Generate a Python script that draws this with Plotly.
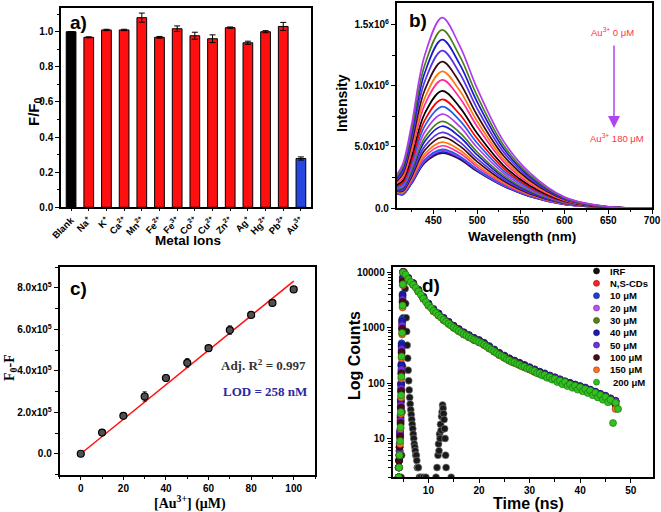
import plotly.graph_objects as go

W, H = 661, 512
SANS = "Liberation Sans, Arial, sans-serif"
SERIF = "Liberation Serif, Times New Roman, serif"

# ---------------- Panel a: selectivity ----------------
ions = ["Blank", "Na<sup>+</sup>", "K<sup>+</sup>", "Ca<sup>2+</sup>", "Mn<sup>2+</sup>", "Fe<sup>2+</sup>",
        "Fe<sup>3+</sup>", "Co<sup>2+</sup>", "Cu<sup>2+</sup>", "Zn<sup>2+</sup>", "Ag<sup>+</sup>",
        "Hg<sup>2+</sup>", "Pb<sup>2+</sup>", "Au<sup>3+</sup>"]
ratio = [1.000, 0.968, 1.010, 1.010, 1.080, 0.968, 1.017, 0.977, 0.960, 1.023, 0.937, 1.000, 1.030, 0.278]
ratio_err = [0.000, 0.003, 0.004, 0.004, 0.026, 0.005, 0.016, 0.020, 0.022, 0.004, 0.009, 0.006, 0.023, 0.009]
bar_colors = ["#000000"] + ["#FF1010"] * 12 + ["#2646E0"]

# ---------------- Panel b: emission spectra ----------------
wl = [408, 415, 425, 440, 460, 480, 500, 530, 560, 600, 650, 700]
spectra = [  # x 1e6, Au3+ 0 uM (top) ... 180 uM (bottom)
    [0.270, 0.360, 0.680, 1.250, 1.56, 1.330, 0.980, 0.550, 0.290, 0.090, 0.010, 0.0],
    [0.257, 0.338, 0.637, 1.171, 1.46, 1.246, 0.919, 0.517, 0.272, 0.085, 0.010, 0.0],
    [0.246, 0.320, 0.602, 1.107, 1.38, 1.179, 0.870, 0.490, 0.258, 0.080, 0.009, 0.0],
    [0.234, 0.299, 0.563, 1.036, 1.29, 1.104, 0.815, 0.460, 0.243, 0.075, 0.009, 0.0],
    [0.221, 0.279, 0.524, 0.965, 1.20, 1.029, 0.760, 0.430, 0.227, 0.071, 0.008, 0.0],
    [0.211, 0.261, 0.490, 0.901, 1.12, 0.962, 0.711, 0.403, 0.213, 0.066, 0.008, 0.0],
    [0.201, 0.245, 0.460, 0.846, 1.05, 0.903, 0.668, 0.380, 0.200, 0.062, 0.008, 0.0],
    [0.189, 0.225, 0.420, 0.774, 0.96, 0.827, 0.612, 0.350, 0.185, 0.058, 0.007, 0.0],
    [0.179, 0.209, 0.390, 0.718, 0.89, 0.768, 0.569, 0.327, 0.172, 0.054, 0.007, 0.0],
    [0.171, 0.196, 0.364, 0.671, 0.83, 0.718, 0.533, 0.307, 0.162, 0.051, 0.007, 0.0],
    [0.163, 0.182, 0.338, 0.623, 0.77, 0.668, 0.496, 0.287, 0.151, 0.047, 0.006, 0.0],
    [0.155, 0.169, 0.312, 0.576, 0.71, 0.618, 0.459, 0.267, 0.141, 0.044, 0.006, 0.0],
    [0.150, 0.160, 0.295, 0.544, 0.67, 0.584, 0.435, 0.253, 0.134, 0.042, 0.006, 0.0],
    [0.143, 0.148, 0.273, 0.505, 0.62, 0.542, 0.404, 0.237, 0.125, 0.039, 0.006, 0.0],
    [0.138, 0.139, 0.256, 0.473, 0.58, 0.509, 0.380, 0.223, 0.118, 0.037, 0.006, 0.0],
    [0.132, 0.130, 0.239, 0.441, 0.54, 0.475, 0.355, 0.210, 0.111, 0.035, 0.005, 0.0],
    [0.128, 0.124, 0.226, 0.418, 0.51, 0.450, 0.337, 0.200, 0.106, 0.033, 0.005, 0.0],
    [0.124, 0.117, 0.213, 0.394, 0.48, 0.425, 0.318, 0.190, 0.100, 0.032, 0.005, 0.0],
    [0.123, 0.115, 0.209, 0.386, 0.47, 0.417, 0.312, 0.187, 0.099, 0.031, 0.005, 0.0],
    [0.121, 0.112, 0.205, 0.378, 0.46, 0.408, 0.306, 0.183, 0.097, 0.030, 0.005, 0.0],
    [0.120, 0.110, 0.200, 0.370, 0.45, 0.400, 0.300, 0.180, 0.095, 0.030, 0.005, 0.0],
]
spec_colors = ["#B23AEE", "#4B7F1E", "#1A1ACD", "#5B33E6", "#3A0B12", "#FF7A10", "#FF2E9A",
               "#000000", "#FF0000", "#1F5FE6", "#B23AEE", "#4B7F1E", "#1A1ACD", "#5B33E6",
               "#3A0B12", "#FF7A10", "#FF2E9A", "#1F5FE6", "#B23AEE", "#1A1ACD", "#3A0B12"]

# ---------------- Panel c: calibration ----------------
conc = [0, 10, 20, 30, 40, 50, 60, 70, 80, 90, 100]
f0_minus_f = [0, 1.02e5, 1.83e5, 2.76e5, 3.65e5, 4.38e5, 5.09e5, 5.96e5, 6.69e5, 7.27e5, 7.92e5]
f0_err = [3e3, 1.2e4, 8e3, 2.2e4, 1.5e4, 2.0e4, 8e3, 2.0e4, 6e3, 8e3, 1.0e4]
fit_x = [0, 100]
fit_y = [0, 8.32e5]

# ---------------- Panel d: lifetime decays ----------------
irf_t = [4.6, 4.7, 4.8, 4.9, 5.0, 5.1, 5.2, 5.3, 5.4, 5.5, 5.6, 5.7, 5.8, 5.9, 6.0,
         6.1, 6.2, 6.3, 6.4, 6.5, 6.6, 6.7, 6.8, 6.9, 7.0, 7.1, 7.2, 7.3, 7.4, 7.5, 7.6, 7.7, 7.8, 7.9, 8.0,
         8.2, 8.5, 9.0, 9.5, 11.5, 11.7, 11.9,
         12.0, 12.1, 12.2, 12.3, 12.4, 12.5, 12.6, 12.7, 12.8, 12.9, 13.0, 13.1, 13.2, 13.3, 13.4, 13.5, 14.5]
irf_c = [2, 5, 30, 200, 1500, 6000, 10000, 8000, 5000, 2700, 1500, 850, 480, 280, 170,
         110, 75, 55, 42, 33, 27, 22, 18, 15, 12, 10, 8, 7, 6, 5, 5, 4, 3, 3, 3,
         2, 2, 2, 2, 2, 3, 5,
         8, 6, 12, 10, 18, 14, 25, 30, 40, 35, 28, 22, 15, 10, 5, 3, 2]

rise_t = [4.1, 4.2, 4.3, 4.4, 4.5, 4.55, 4.6, 4.65, 4.7, 4.8, 4.9, 4.95]
decay_t = [5, 6, 7, 8, 9, 10, 11, 12, 13, 14, 15, 16, 17, 18, 19, 20, 21, 22, 23, 24, 25, 26, 27, 28, 29, 30,
           31, 32, 33, 34, 35, 36, 37, 38, 39, 40, 41, 42, 43, 44, 45, 46, 47]
green_t = [5.0, 5.5, 6.0, 6.5, 7.0, 7.5, 8.0, 8.5, 9.0, 9.5, 10.0, 10.5, 11.0, 11.5, 12.0, 12.5, 13.0, 13.5,
           14.0, 14.5, 15.0, 15.5, 16.0, 16.5, 17.0, 17.5, 18.0, 18.5, 19.0, 19.5, 20.0, 20.5, 21.0, 21.5,
           22.0, 22.5, 23.0, 23.5, 24.0, 24.5, 25.0, 25.5, 26.0, 26.5, 27.0, 27.5, 28.0, 28.5, 29.0, 29.5,
           30.0, 30.5, 31.0, 31.5, 32.0, 32.5, 33.0, 33.5, 34.0, 34.5, 35.0, 35.5, 36.0, 36.5, 37.0, 37.5,
           38.0, 38.5, 39.0, 39.5, 40.0, 40.5, 41.0, 41.5, 42.0, 42.5, 43.0, 43.5, 44.0, 44.5, 45.0, 45.5,
           46.0, 46.5, 47.0, 47.5]

decay_names = ["N,S-CDs", "10 μM", "20 μM", "30 μM", "40 μM", "50 μM", "100 μM", "150 μM", "200 μM"]
decay_colors = ["#FF2020", "#2040D0", "#C050F0", "#5A7F1A", "#1A1AB0", "#7030E0", "#4A0A18", "#FF7020", "#30C020"]
rise_counts = [
    [2, 4, 7, 12, 22, 45, 90, 200, 450, 1200, 3500, 7500],
    [3, 5, 8, 14, 26, 50, 100, 220, 520, 1400, 4000, 8000],
    [2, 3, 6, 11, 20, 38, 75, 160, 380, 1000, 3000, 7000],
    [2, 4, 6, 10, 18, 34, 68, 145, 340, 900, 2800, 6500],
    [3, 4, 7, 13, 24, 47, 95, 210, 480, 1300, 3800, 7800],
    [2, 3, 6, 12, 21, 40, 80, 175, 410, 1100, 3200, 7200],
    [2, 4, 7, 11, 19, 36, 72, 150, 360, 950, 2900, 6800],
    [2, 3, 5, 8, 15, 28, 55, 120, 280, 750, 2300, 5800],
    [2, 3, 5, 9, 16, 30, 60, 130, 300, 800, 2500, 6000],
]
decay_counts = [
    [9800, 7400, 5850, 4420, 3280, 2480, 1970, 1640, 1360, 1160, 985, 860, 748, 668, 595, 540, 482, 420, 366, 318,
     284, 252, 230, 210, 192, 175, 158, 146, 134, 124, 115, 105, 97, 90, 85, 79, 74, 68, 62, 57, 53, 47, 42],
    [10000, 7800, 6250, 4750, 3520, 2670, 2120, 1770, 1470, 1250, 1060, 925, 808, 720, 642, 585, 522, 455, 396, 345,
     307, 274, 250, 228, 208, 190, 173, 158, 147, 134, 125, 115, 106, 99, 93, 87, 81, 75, 69, 63, 58, 52, 47],
    [10000, 7700, 6150, 4660, 3460, 2620, 2080, 1735, 1440, 1225, 1040, 908, 792, 706, 630, 573, 511, 446, 388, 338,
     301, 268, 245, 223, 204, 186, 169, 154, 144, 132, 122, 112, 104, 97, 91, 85, 80, 73, 67, 61, 57, 51, 46],
    [10000, 7600, 6040, 4580, 3400, 2575, 2045, 1705, 1415, 1205, 1025, 893, 778, 694, 619, 564, 503, 439, 381, 332,
     296, 264, 241, 220, 201, 183, 167, 152, 142, 130, 121, 111, 103, 96, 90, 84, 79, 73, 67, 61, 57, 51, 46],
    [10000, 7900, 6350, 4840, 3590, 2720, 2160, 1800, 1495, 1270, 1080, 943, 822, 733, 654, 596, 531, 463, 403, 351,
     313, 279, 254, 232, 212, 193, 176, 160, 149, 137, 127, 117, 108, 101, 94, 88, 83, 76, 70, 64, 59, 53, 48],
    [10000, 7780, 6230, 4740, 3510, 2665, 2115, 1765, 1465, 1245, 1058, 922, 806, 718, 640, 584, 520, 453, 394, 343,
     306, 273, 249, 227, 207, 189, 172, 157, 146, 134, 124, 114, 106, 98, 92, 86, 81, 74, 68, 62, 58, 52, 47],
    [10000, 7650, 6090, 4620, 3425, 2595, 2060, 1717, 1424, 1212, 1030, 899, 784, 699, 623, 568, 506, 441, 384, 334,
     298, 266, 242, 221, 202, 184, 168, 153, 142, 130, 121, 111, 103, 96, 90, 84, 79, 73, 67, 61, 56, 51, 40],
    [9900, 7450, 5900, 4450, 3300, 2500, 1985, 1650, 1370, 1165, 990, 864, 753, 671, 598, 545, 486, 424, 369, 321,
     286, 255, 233, 212, 194, 177, 161, 147, 137, 125, 116, 107, 99, 92, 86, 80, 76, 70, 64, 58, 54, 48, 34],
]
green_counts = [9800, 9000, 7450, 6600, 5900, 5200, 4480, 3900, 3320, 2900, 2520, 2260, 2000, 1830, 1665, 1510,
                1380, 1270, 1175, 1080, 1000, 930, 872, 810, 760, 720, 678, 640, 605, 575, 550, 520, 490, 455,
                428, 398, 372, 345, 324, 305, 289, 268, 258, 238, 236, 220, 215, 198, 197, 182, 180, 166, 164,
                150, 150, 137, 140, 124, 128, 115, 119, 104, 110, 95, 104, 88, 95, 82, 89, 76, 84, 71, 78, 66,
                73, 60, 67, 55, 61, 50, 56, 45, 50, 19, 44, 34]
legend_names = ["IRF"] + decay_names
legend_colors = ["#111111"] + decay_colors


def px(x, y):
    return x / W, 1 - y / H


def darker(hexc, f=0.55):
    r, g, b = int(hexc[1:3], 16), int(hexc[3:5], 16), int(hexc[5:7], 16)
    return "rgb(%d,%d,%d)" % (r * f, g * f, b * f)


fig = go.Figure()

# Panel a
fig.add_trace(go.Bar(x=ions, y=ratio, marker=dict(color=bar_colors, line=dict(color="black", width=1)),
                     width=0.55, error_y=dict(type="data", array=ratio_err, color="black", thickness=1, width=3),
                     xaxis="x", yaxis="y"))

# Panel b (bottom curves first)
for i in range(len(spectra) - 1, -1, -1):
    fig.add_trace(go.Scatter(x=wl, y=[v * 1e6 for v in spectra[i]], mode="lines",
                             line=dict(color=spec_colors[i], width=1.7, shape="spline", smoothing=1.0),
                             xaxis="x2", yaxis="y2"))

# Panel c
fig.add_trace(go.Scatter(x=fit_x, y=fit_y, mode="lines", line=dict(color="#FF1010", width=1.5),
                         xaxis="x3", yaxis="y3"))
fig.add_trace(go.Scatter(x=conc, y=f0_minus_f, mode="markers",
                         marker=dict(size=7, color="#505050", line=dict(color="black", width=1.2)),
                         error_y=dict(type="data", array=f0_err, color="black", thickness=1, width=2),
                         xaxis="x3", yaxis="y3"))

# Panel d
MS = 7
fig.add_trace(go.Scatter(x=irf_t, y=irf_c, mode="markers",
                         marker=dict(size=MS, color="#1A1A1A", line=dict(color="#888888", width=0.6)),
                         xaxis="x4", yaxis="y4"))
for k in range(8):
    fig.add_trace(go.Scatter(x=rise_t + decay_t, y=rise_counts[k] + decay_counts[k], mode="markers",
                             marker=dict(size=MS, color=decay_colors[k], line=dict(color=darker(decay_colors[k]), width=0.6)),
                             xaxis="x4", yaxis="y4"))
fig.add_trace(go.Scatter(x=rise_t + green_t, y=rise_counts[8] + green_counts, mode="markers",
                         marker=dict(size=MS, color=decay_colors[8], line=dict(color=darker(decay_colors[8]), width=0.6)),
                         xaxis="x4", yaxis="y4"))


def axis(domain, rng, anchor, **kw):
    d = dict(domain=domain, range=rng, anchor=anchor, showline=True, mirror=True, linecolor="black",
             linewidth=1.5, ticks="outside", ticklen=4, tickwidth=1.2, tickcolor="black", showgrid=False,
             zeroline=False, automargin=False,
             tickfont=dict(family=SANS, size=10, color="black", weight="bold"))
    d.update(kw)
    return d


minor = dict(ticks="outside", ticklen=2.5, tickwidth=1, tickcolor="black", showgrid=False)

fig.update_layout(
    width=W, height=H, margin=dict(l=0, r=0, t=0, b=0), autosize=False, showlegend=False,
    paper_bgcolor="white", plot_bgcolor="white",
    xaxis=axis([61 / W, 311 / W], [-0.57, 13.57], "y", type="category", tickangle=-45, ticklen=2,
               tickfont=dict(family=SANS, size=9.5, color="black", weight="bold")),
    yaxis=axis([1 - 207.3 / H, 1 - 8 / H], [0, 1.135], "x", dtick=0.2, tickformat=".1f",
               minor=dict(minor, dtick=0.1)),
    xaxis2=axis([396.7 / W, 652 / W], [408, 700], "y2", dtick=50, tick0=0, minor=dict(minor, dtick=25),
                ticklabelstandoff=-2),
    yaxis2=axis([1 - 208 / H, 1 - 3 / H], [0, 1.68e6], "x2", tickmode="array",
                tickvals=[0, 5e5, 1e6, 1.5e6],
                ticktext=["0.0", "5.0x10<sup>5</sup>", "1.0x10<sup>6</sup>", "1.5x10<sup>6</sup>"],
                minor=dict(minor, dtick=2.5e5, tick0=0)),
    xaxis3=axis([59.5 / W, 315 / W], [-10, 110], "y3", dtick=20, tick0=0, minor=dict(minor, dtick=10)),
    yaxis3=axis([1 - 474.5 / H, 1 - 267 / H], [-1e5, 9e5], "x3", tickmode="array",
                tickvals=[0, 2e5, 4e5, 6e5, 8e5],
                ticktext=["0.0", "2.0x10<sup>5</sup>", "4.0x10<sup>5</sup>", "6.0x10<sup>5</sup>", "8.0x10<sup>5</sup>"],
                minor=dict(minor, dtick=1e5, tick0=0)),
    xaxis4=axis([392.5 / W, 653 / W], [2.9, 54.4], "y4", dtick=10, tick0=0, minor=dict(minor, dtick=5),
                ticklabelstandoff=-1),
    yaxis4=axis([1 - 477.3 / H, 1 - 267 / H], [0.301, 4.09], "x4", type="log", tickmode="array",
                tickvals=[10, 100, 1000, 10000], ticktext=["10", "100", "1000", "10000"],
                minor=dict(minor, dtick="D1")),
)

ann = []


def text(x, y, s, size, family=SANS, color="black", xanchor="center", angle=0):
    xx, yy = px(x, y)
    ann.append(dict(x=xx, y=yy, xref="paper", yref="paper", text=s, showarrow=False, xanchor=xanchor,
                    yanchor="middle", textangle=angle, font=dict(family=family, size=size, color=color)))


# panel labels
text(68, 22, "<b>a)</b>", 19, xanchor="left")
text(407, 20, "<b>b)</b>", 19, xanchor="left")
text(68, 288, "<b>c)</b>", 19, xanchor="left")
text(420, 285, "<b>d)</b>", 19, xanchor="left")
# axis titles
text(34, 112, "<b>F/F<sub>0</sub></b>", 15, angle=-90)
text(188, 240, "<b>Metal Ions</b>", 13.5)
text(342, 103, "<b>Intensity</b>", 14, angle=-90)
text(522, 236, "<b>Wavelength (nm)</b>", 13.5)
text(10, 368, "<b>F<sub>0</sub>-F</b>", 14, family=SERIF, angle=-90)
text(190, 502, "<b>[Au<sup>3+</sup>] (μM)</b>", 14, family=SERIF)
text(354, 356, "<b>Log Counts</b>", 16, angle=-90)
text(528, 503, "<b>Time (ns)</b>", 16)
# panel b notes
text(612, 32, "Au<sup>3+</sup> 0 μM", 9.5, color="#FF3344")
text(617, 138, "Au<sup>3+</sup> 180 μM", 9.5, color="#FF3344")
hx, hy = px(614, 128)
ann.append(dict(x=hx, y=hy, xref="paper", yref="paper", ax=0, ay=-84, text="", showarrow=True,
                arrowhead=2, arrowsize=1.6, arrowwidth=1.5, arrowcolor="#B044F0"))
# panel c notes
text(219, 365, "<b>Adj. R<sup>2</sup> = 0.997</b>", 13, family=SERIF, color="#333333", xanchor="left")
text(221, 391, "<b>LOD = 258 nM</b>", 13, family=SERIF, color="#2A2AA0", xanchor="left")

# panel d legend
shapes = []
for i, (nm, col) in enumerate(zip(legend_names, legend_colors)):
    ly = 271 + 12.35 * i
    x0, y0 = px(593.5, ly + 3)
    x1, y1 = px(599.5, ly - 3)
    shapes.append(dict(type="circle", xref="paper", yref="paper", x0=x0, y0=y0, x1=x1, y1=y1,
                       fillcolor=col, line=dict(color=darker(col), width=0.6)))
    text(608 + (3 if nm == "200 μM" else 0), ly, "<b>%s</b>" % nm, 9.5, xanchor="left")

fig.update_layout(annotations=ann, shapes=shapes)
fig.write_html("out.html")
